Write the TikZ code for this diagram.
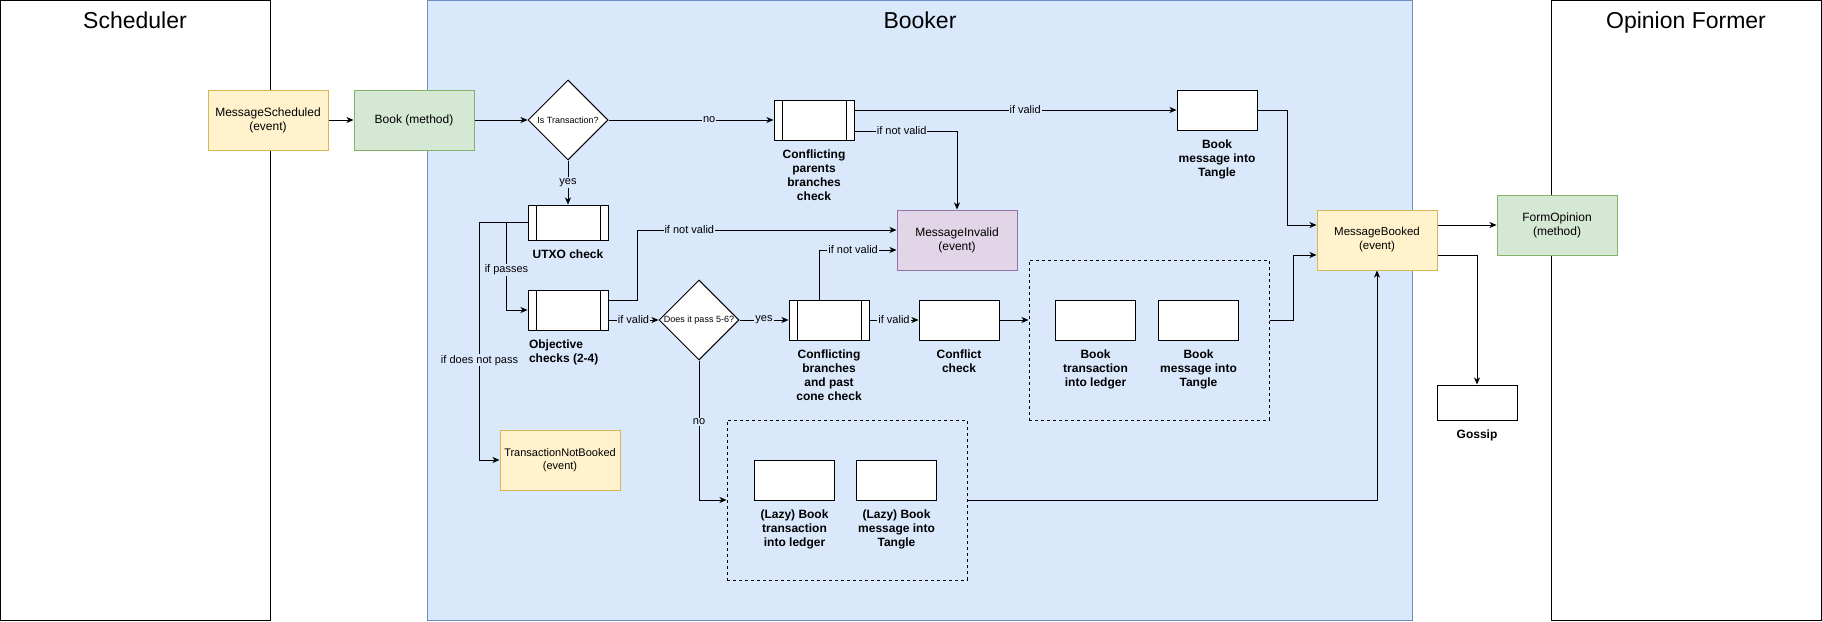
\documentclass[tikz,border=0pt]{standalone}
\usepackage{fontspec}
\setmainfont{Liberation Sans}
\usepackage{xcolor}
\usetikzlibrary{shapes.geometric, arrows.meta, positioning, calc}

\definecolor{evtfill}{HTML}{FFF2CC}
\definecolor{evtdraw}{HTML}{D6B656}
\definecolor{mthfill}{HTML}{D5E8D4}
\definecolor{mthdraw}{HTML}{82B366}
\definecolor{invfill}{HTML}{E1D5E7}
\definecolor{invdraw}{HTML}{9673A6}
\definecolor{lanefill}{HTML}{DAE8FC}
\definecolor{lanedraw}{HTML}{6C8EBF}

\begin{document}
\begin{tikzpicture}[
    x=1pt, y=-1pt,
    line width=1pt,
    font=\fontsize{12}{14}\selectfont,
    node distance=26pt,
    lane/.style={rectangle, draw, anchor=north west, outer sep=0pt, minimum height=619.5pt},
    title/.style={font=\fontsize{23}{27}\selectfont, anchor=base},
    box/.style={rectangle, draw, minimum width=120pt, minimum height=60pt, align=center},
    event/.style={box, fill=evtfill, draw=evtdraw},
    method/.style={box, fill=mthfill, draw=mthdraw},
    invalid/.style={box, fill=invfill, draw=invdraw},
    task/.style={rectangle, draw, fill=white, minimum width=80pt, minimum height=40pt},
    proc/.style={task, path picture={
        \draw ([xshift=8pt]path picture bounding box.north west) -- ([xshift=8pt]path picture bounding box.south west)
              ([xshift=-8pt]path picture bounding box.north east) -- ([xshift=-8pt]path picture bounding box.south east);}},
    decision/.style={diamond, draw, fill=white, minimum width=80pt, minimum height=80pt, inner sep=0pt, font=\fontsize{9}{10}\selectfont},
    caption/.style={font=\fontsize{12}{14}\selectfont\bfseries, align=center, inner sep=1pt},
    group/.style={rectangle, draw, dashed, minimum width=240pt, minimum height=160pt},
    line/.style={draw, -{Stealth[length=7pt, width=6pt, inset=2pt]}},
    lbl/.style={font=\fontsize{11}{13}\selectfont, fill=lanefill, inner sep=1pt}
]
    \useasboundingbox (0,0) rectangle (1822,621);

    % Lanes
    \node [lane, minimum width=270pt] (schedLane) at (0.5,0.5) {};
    \node [lane, minimum width=985pt, fill=lanefill, draw=lanedraw] (bookerLane) at (427,0.5) {};
    \node [lane, minimum width=270.5pt] (opinionLane) at (1551,0.5) {};
    \node [title] (schedTitle) at (135,28) {Scheduler};
    \node [title] (bookerTitle) at (920,28) {Booker};
    \node [title] (opinionTitle) at (1686,28) {Opinion Former};

    % Entry
    \node [event] (msgScheduled) at (268,120) {MessageScheduled\\(event)};
    \node [method, right=25pt of msgScheduled] (book) {Book (method)};
    \node [decision, right=53pt of book] (isTx) {Is Transaction?};

    % Message path
    \node [proc, right=165pt of isTx] (parentsChk) {};
    \node [caption, below=8pt of parentsChk] (parentsCap) {Conflicting\\parents\\branches\\check};
    \node [task] (bookMsgTop) at (1217,110) {};
    \node [caption, below=8pt of bookMsgTop] (bookMsgTopCap) {Book\\message into\\Tangle};

    % Transaction path
    \node [proc, minimum height=35pt, below=44pt of isTx] (utxoChk) {};
    \node [caption, below=8pt of utxoChk] (utxoCap) {UTXO check};
    \node [proc, below=49pt of utxoChk] (objChk) {};
    \node [caption, align=left, below=8pt of objChk.south west, anchor=north west] (objCap) {Objective\\checks (2-4)};
    \node [event, font=\fontsize{11}{13.5}\selectfont] (txNotBooked) at (560,460) {TransactionNotBooked\\(event)};
    \node [decision] (pass56) at (699,320) {Does it pass 5-6?};
    \node [proc, right=49pt of pass56] (branchesChk) {};
    \node [caption, below=8pt of branchesChk] (branchesCap) {Conflicting\\branches\\and past\\cone check};
    \node [task, right=49pt of branchesChk] (conflictChk) {};
    \node [caption, below=8pt of conflictChk] (conflictCap) {Conflict\\check};
    \node [invalid] (msgInvalid) at (957,240) {MessageInvalid\\(event)};

    % Booking group
    \node [group] (bookGrp) at (1149,340) {};
    \node [task] (bookTx) at (1095.5,320) {};
    \node [caption, below=8pt of bookTx] (bookTxCap) {Book\\transaction\\into ledger};
    \node [task, right=22pt of bookTx] (bookMsg) {};
    \node [caption, below=8pt of bookMsg] (bookMsgCap) {Book\\message into\\Tangle};

    % Lazy booking group
    \node [group] (lazyGrp) at (847,500) {};
    \node [task] (lazyTx) at (794.5,480) {};
    \node [caption, below=8pt of lazyTx] (lazyTxCap) {(Lazy) Book\\transaction\\into ledger};
    \node [task, right=21pt of lazyTx] (lazyMsg) {};
    \node [caption, below=8pt of lazyMsg] (lazyMsgCap) {(Lazy) Book\\message into\\Tangle};

    % Output
    \node [event, font=\fontsize{11.5}{14}\selectfont] (msgBooked) at (1377,240) {MessageBooked\\(event)};
    \node [method] (formOpinion) at (1557,225) {FormOpinion\\(method)};
    \node [task, minimum height=35pt] (gossip) at (1477,402.5) {};
    \node [caption, below=8pt of gossip] (gossipCap) {Gossip};

    % Connect nodes
    \path [line] (msgScheduled) -- (book);
    \path [line] (book) -- (isTx);
    \path [line] (isTx) -- node [lbl, pos=0.61] {no} (parentsChk);
    \path [line] (isTx) -- node [lbl] {yes} (utxoChk);
    \path [line] (parentsChk.east |- bookMsgTop) -- node [lbl, pos=0.53] {if valid} (bookMsgTop);
    \path [line] ([yshift=-11pt]parentsChk.east) -| node [lbl, pos=0.23] {if not valid} (msgInvalid.north);
    \path [line] (bookMsgTop.east) -- ++(30,0) |- ([yshift=15pt]msgBooked.west);

    % Transaction checks
    \path [line] (utxoChk.west) -- ++(-21,0) |- node [lbl, pos=0.27] {if passes} (objChk.west);
    \path [line] (utxoChk.west) -- ++(-48,0) |- node [lbl, pos=0.29] {if does not pass} (txNotBooked.west);
    \path [line] ([yshift=10pt]objChk.east) -- ++(29,0) |- node [lbl, pos=0.6] {if not valid} ([yshift=10pt]msgInvalid.west);
    \path [line] ([yshift=-10pt]objChk.east) -- node [lbl] {if valid} (pass56);
    \path [line] (pass56) -- node [lbl] {yes} (branchesChk);
    \path [line] (pass56.south) |- node [lbl, pos=0.22] {no} (lazyGrp.west);
    \path [line] ([xshift=-10pt]branchesChk.north) |- node [lbl, pos=0.72] {if not valid} ([yshift=-10pt]msgInvalid.west);
    \path [line] (branchesChk) -- node [lbl] {if valid} (conflictChk);
    \path [line] (conflictChk) -- (conflictChk -| bookGrp.west);

    % Booked
    \path [line] (bookGrp.east |- conflictChk) -- ++(24,0) |- ([yshift=-15pt]msgBooked.west);
    \path [line] (lazyGrp.east) -| (msgBooked.south);
    \path [line] ([yshift=15pt]msgBooked.east) -- (formOpinion);
    \path [line] ([yshift=-15pt]msgBooked.east) -| (gossip.north);

\end{tikzpicture}
\end{document}
